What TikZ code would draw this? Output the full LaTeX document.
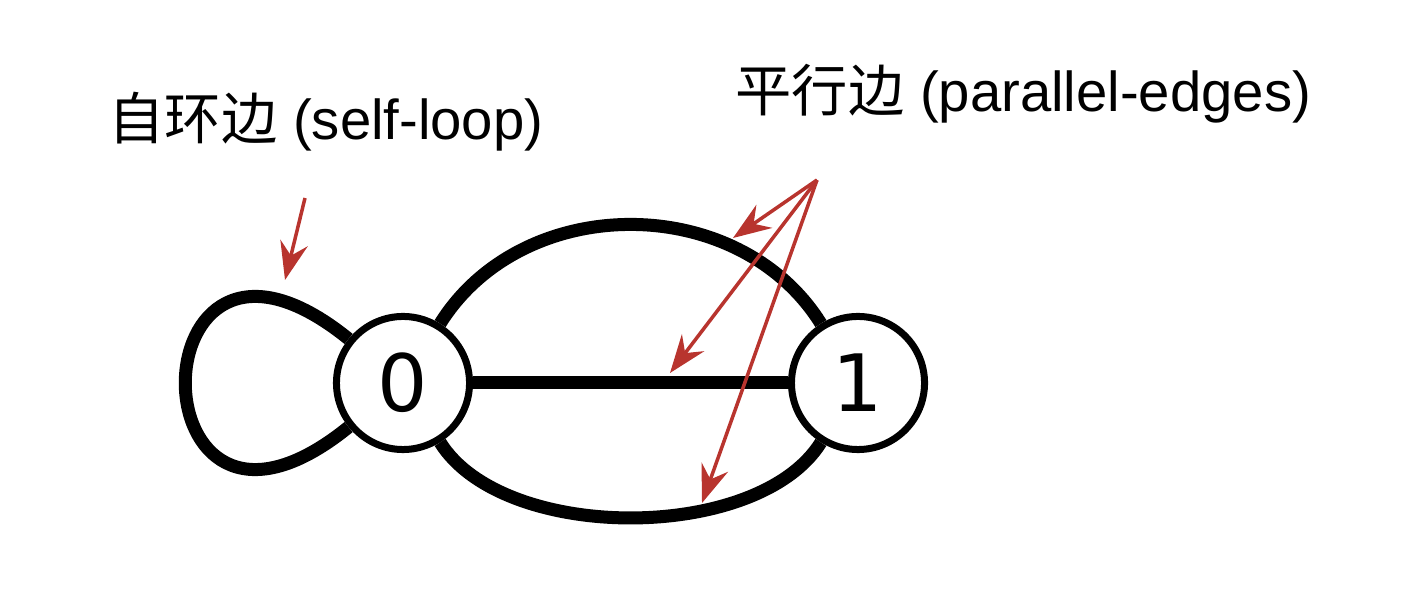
\documentclass[tikz,border=0pt]{standalone}
\usepackage{fontspec}
\setmainfont{Liberation Sans}
\newfontfamily\cjk{Noto Sans CJK SC}
\newfontfamily\digitfont{DejaVu Sans}
\usetikzlibrary{arrows.meta}
\definecolor{pointer}{RGB}{184,52,46}

\begin{document}
\begin{tikzpicture}[x=0.01cm,y=-0.01cm,
    vertex/.style={circle,draw=black,fill=white,line width=0.7mm,minimum size=1.33cm,inner sep=0pt,font=\digitfont\fontsize{22.5}{24}\selectfont},
    link/.style={line width=1.3mm,black},
    pointto/.style={pointer,line width=1pt,-{Stealth[length=3.8mm,width=2.8mm,inset=1.3mm]}}]
         \useasboundingbox (0,0) rectangle (1410,592);

         \node[vertex] (V0) at (403,383) {0};
         \node[vertex] (V1) at (858,383) {1};

         \draw[link] (V0) -- (V1);
         \draw[link] (V0) to[out=58,in=122,looseness=1.05] (V1);
         \draw[link] (V0) to[out=-58,in=-122,looseness=0.8] (V1);
         \draw[link] (V0) to[out=141,in=219,distance=2.8cm] (V0);

         \node[anchor=base west,inner sep=0pt,font=\fontsize{16}{18}\selectfont] (selfloop) at (108,140) {{\cjk 自环边} (self-loop)};
         \node[anchor=base west,inner sep=0pt,font=\fontsize{16}{18}\selectfont] (parallel) at (735,112) {{\cjk 平行边} (parallel-edges)};

         \coordinate (S0) at (305,198);
         \coordinate (S1) at (285,280);
         \coordinate (P0) at (817,180);
         \coordinate (P1) at (733,238);
         \coordinate (P2) at (670,373);
         \coordinate (P3) at (702,503);

         \draw[pointto] (S0) -- (S1);
         \draw[pointto] (P0) -- (P1);
         \draw[pointto] (P0) -- (P2);
         \draw[pointto] (P0) -- (P3);
\end{tikzpicture}
\end{document}
